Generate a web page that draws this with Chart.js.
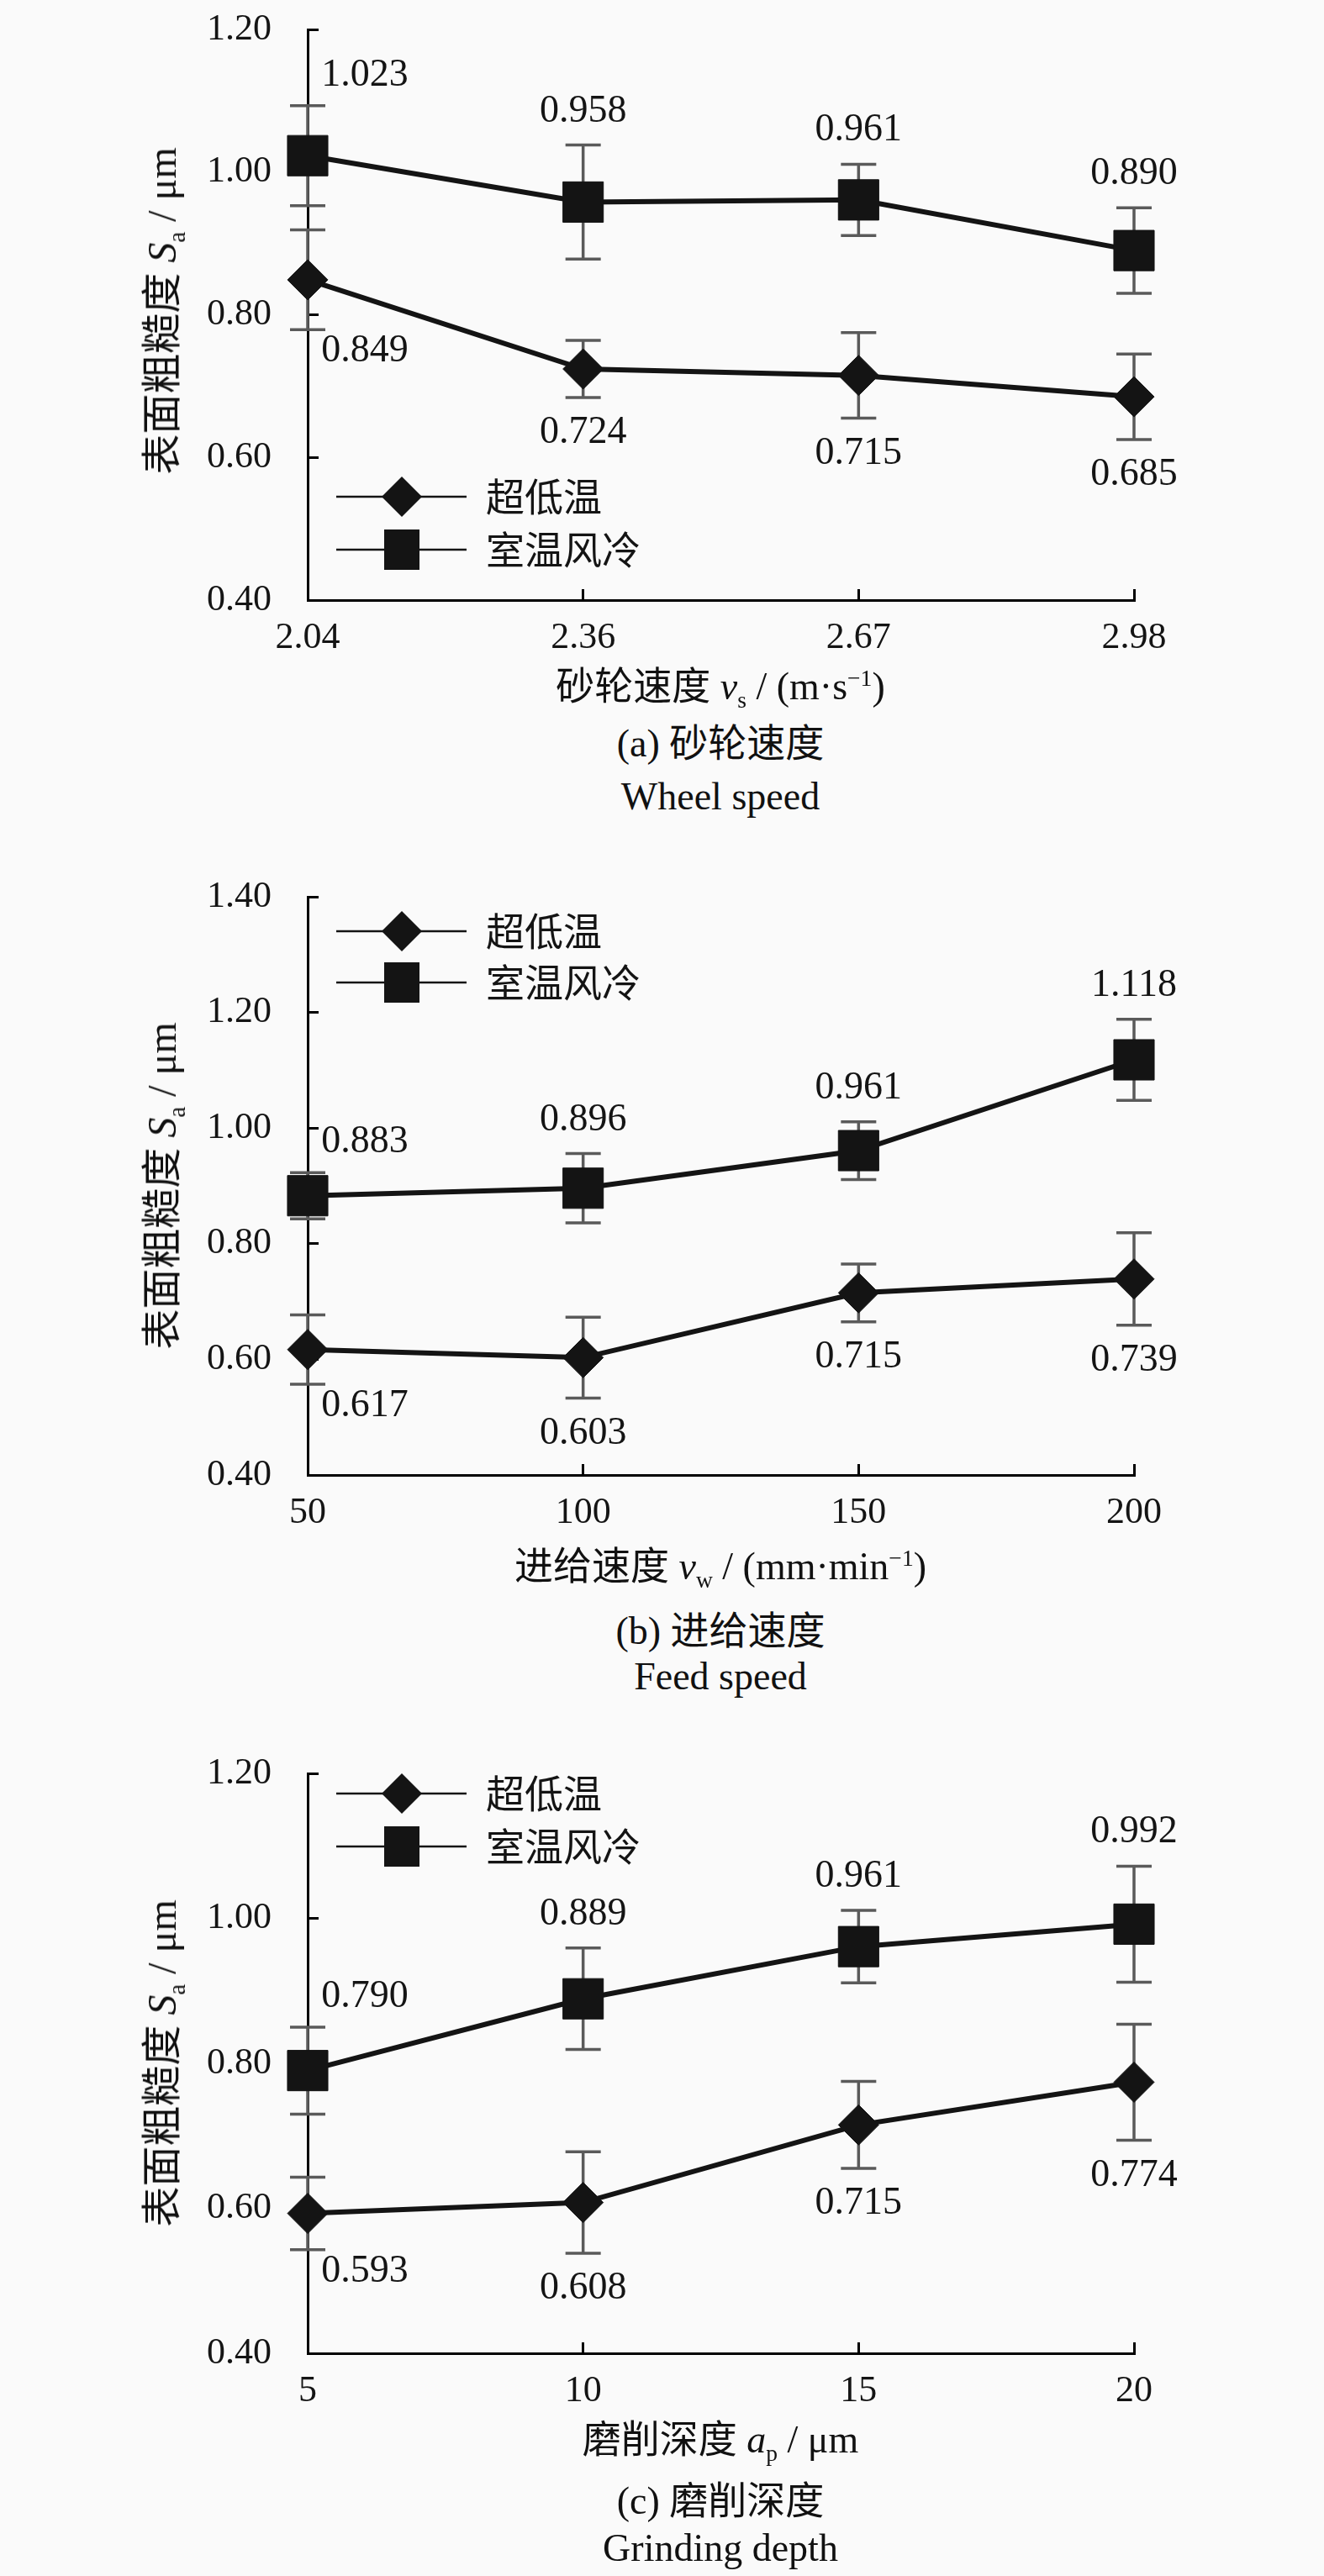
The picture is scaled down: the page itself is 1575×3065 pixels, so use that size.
<!DOCTYPE html>
<html>
<head>
<meta charset="utf-8">
<script src="https://cdn.jsdelivr.net/npm/chart.js@4.4.1/dist/chart.umd.min.js"></script>
<style>
  html, body { margin: 0; padding: 0; background: #fafafa; }
  #page { position: relative; width: 1575px; height: 3065px; overflow: hidden;
          font-family: "Liberation Serif", "Noto Sans CJK SC", serif; color: #111; }
  canvas { position: absolute; left: 0; }
  .txt { position: absolute; white-space: nowrap; font-size: 46px; line-height: 1;
         transform: translate(-50%, -50%); }
  .ytitle { font-size: 48px; transform: translate(-50%, -50%) rotate(-90deg); }
  sub, sup { font-size: 0.6em; line-height: 0; }
</style>
</head>
<body>
<div id="page">
  <canvas id="chartA"></canvas>
  <canvas id="chartB"></canvas>
  <canvas id="chartC"></canvas>

  <div class="txt ytitle" style="left:193px; top:370px">表面粗糙度 <i>S</i><sub>a</sub> / μm</div>
  <div class="txt" style="left:857px; top:817px">砂轮速度 <i>v</i><sub>s</sub> / (m·s<sup>−1</sup>)</div>
  <div class="txt" style="left:857px; top:885px">(a) 砂轮速度</div>
  <div class="txt" style="left:857px; top:948px">Wheel speed</div>

  <div class="txt ytitle" style="left:193px; top:1411px">表面粗糙度 <i>S</i><sub>a</sub> / μm</div>
  <div class="txt" style="left:857px; top:1864px">进给速度 <i>v</i><sub>w</sub> / (mm·min<sup>−1</sup>)</div>
  <div class="txt" style="left:857px; top:1941px">(b) 进给速度</div>
  <div class="txt" style="left:857px; top:1995px">Feed speed</div>

  <div class="txt ytitle" style="left:193px; top:2455px">表面粗糙度 <i>S</i><sub>a</sub> / μm</div>
  <div class="txt" style="left:857px; top:2903px">磨削深度 <i>a</i><sub>p</sub> / μm</div>
  <div class="txt" style="left:857px; top:2976px">(c) 磨削深度</div>
  <div class="txt" style="left:857px; top:3032px">Grinding depth</div>
</div>

<script>
// --- data ---
const seriesNames = ['超低温', '室温风冷'];

// (a) wheel speed
const catsA = ['2.04', '2.36', '2.67', '2.98'];
const cryoA = [0.849, 0.724, 0.715, 0.685];
const cryoErrA = [0.07, 0.04, 0.06, 0.06];
const airA = [1.023, 0.958, 0.961, 0.890];
const airErrA = [0.07, 0.08, 0.05, 0.06];
const yTicksA = [0.40, 0.60, 0.80, 1.00, 1.20];

// (b) feed speed
const catsB = ['50', '100', '150', '200'];
const cryoB = [0.617, 0.603, 0.715, 0.739];
const cryoErrB = [0.06, 0.07, 0.05, 0.08];
const airB = [0.883, 0.896, 0.961, 1.118];
const airErrB = [0.04, 0.06, 0.05, 0.07];
const yTicksB = [0.40, 0.60, 0.80, 1.00, 1.20, 1.40];

// (c) grinding depth
const catsC = ['5', '10', '15', '20'];
const cryoC = [0.593, 0.608, 0.715, 0.774];
const cryoErrC = [0.05, 0.07, 0.06, 0.08];
const airC = [0.790, 0.889, 0.961, 0.992];
const airErrC = [0.06, 0.07, 0.05, 0.08];
const yTicksC = [0.40, 0.60, 0.80, 1.00, 1.20];

// --- styling ---
const NUM_FONT = '"Liberation Serif", "Times New Roman", serif';
const CJK_FONT = '"Noto Sans CJK SC", sans-serif';
const INK = '#141414';
const ERR = '#5a5a5a';

// error bars under the markers
const errorBars = {
  id: 'errorBars',
  beforeDatasetsDraw(chart) {
    const ctx = chart.ctx, y = chart.scales.y;
    ctx.save();
    ctx.strokeStyle = ERR;
    ctx.lineWidth = 3.5;
    chart.data.datasets.forEach((ds, i) => {
      chart.getDatasetMeta(i).data.forEach((pt, j) => {
        const top = y.getPixelForValue(ds.data[j] + ds.errors[j]);
        const bot = y.getPixelForValue(ds.data[j] - ds.errors[j]);
        ctx.beginPath();
        ctx.moveTo(pt.x, top); ctx.lineTo(pt.x, bot);
        ctx.moveTo(pt.x - 21, top); ctx.lineTo(pt.x + 21, top);
        ctx.moveTo(pt.x - 21, bot); ctx.lineTo(pt.x + 21, bot);
        ctx.stroke();
      });
    });
    ctx.restore();
  }
};

// value labels beyond the end of each error bar (first column nudged right)
const valueLabels = {
  id: 'valueLabels',
  afterDatasetsDraw(chart) {
    const ctx = chart.ctx, y = chart.scales.y;
    ctx.save();
    ctx.fillStyle = INK;
    ctx.font = '46px ' + NUM_FONT;
    ctx.textAlign = 'center';
    ctx.textBaseline = 'middle';
    chart.data.datasets.forEach((ds, i) => {
      chart.getDatasetMeta(i).data.forEach((pt, j) => {
        const v = ds.data[j], e = ds.errors[j];
        const first = j === 0;
        const x = pt.x + (first ? 68 : 0);
        const ly = ds.labelSide === 'above'
          ? y.getPixelForValue(v + e) - (first ? 36 : 40)
          : y.getPixelForValue(v - e) + (first ? 26 : 42);
        ctx.fillText(v.toFixed(3), x, ly);
      });
    });
    ctx.restore();
  }
};

// legend: line with marker, then name
const lineLegend = {
  id: 'lineLegend',
  afterDraw(chart, args, opts) {
    const ctx = chart.ctx;
    ctx.save();
    chart.data.datasets.forEach((ds, i) => {
      const ry = opts.rows[i];
      ctx.strokeStyle = INK;
      ctx.lineWidth = 2.5;
      ctx.beginPath();
      ctx.moveTo(400, ry); ctx.lineTo(555, ry);
      ctx.stroke();
      ctx.fillStyle = INK;
      ctx.beginPath();
      if (ds.pointStyle === 'rectRot') {
        ctx.moveTo(478 - 24, ry); ctx.lineTo(478, ry - 24);
        ctx.lineTo(478 + 24, ry); ctx.lineTo(478, ry + 24);
        ctx.closePath();
      } else {
        ctx.rect(478 - 21, ry - 24, 42, 48);
      }
      ctx.fill();
      ctx.font = '46px ' + CJK_FONT;
      ctx.textAlign = 'left';
      ctx.textBaseline = 'middle';
      ctx.fillText(ds.label, 578, ry);
    });
    ctx.restore();
  }
};

function makeChart(id, cats, cryo, cryoErr, air, airErr, yTicks, lay) {
  const padTop = lay.plotTop - lay.canvasTop;
  const h = padTop + (lay.plotBottom - lay.plotTop) + 100;
  const cv = document.getElementById(id);
  cv.width = 1575; cv.height = h;
  cv.style.top = lay.canvasTop + 'px';
  cv.style.width = '1575px'; cv.style.height = h + 'px';

  const axisGrid = { drawOnChartArea: false, color: '#000', lineWidth: 3, tickLength: -13 };
  const axisBorder = { display: true, color: '#000', width: 3 };

  return new Chart(cv.getContext('2d'), {
    type: 'line',
    data: {
      labels: cats,
      datasets: [
        { label: seriesNames[0], data: cryo, errors: cryoErr, labelSide: 'below',
          pointStyle: 'rectRot', pointRadius: 24 },
        { label: seriesNames[1], data: air, errors: airErr, labelSide: 'above',
          pointStyle: 'rect', pointRadius: 34 }
      ].map(d => Object.assign({
        borderColor: INK, borderWidth: 6, backgroundColor: INK,
        pointBackgroundColor: INK, pointBorderColor: INK, pointBorderWidth: 1,
        tension: 0, clip: false
      }, d))
    },
    options: {
      responsive: false,
      animation: false,
      devicePixelRatio: 1,
      layout: { padding: { top: padTop, right: 1575 - lay.plotRight, bottom: 0, left: 0 } },
      scales: {
        x: {
          type: 'category', offset: false,
          grid: Object.assign({ offset: false }, axisGrid), border: axisBorder,
          ticks: { color: INK, padding: 32, maxRotation: 0, autoSkip: false,
                   font: { family: NUM_FONT, size: 44 } },
          afterFit(s) { s.height = 100; s.paddingLeft = 0; s.paddingRight = 0; }
        },
        y: {
          min: yTicks[0], max: yTicks[yTicks.length - 1],
          grid: axisGrid, border: axisBorder,
          afterBuildTicks(s) { s.ticks = yTicks.map(v => ({ value: v })); },
          ticks: { color: INK, padding: 56, font: { family: NUM_FONT, size: 44 },
                   callback: v => Number(v).toFixed(2) },
          afterFit(s) { s.width = lay.plotLeft; s.paddingTop = 0; s.paddingBottom = 0; }
        }
      },
      plugins: {
        legend: { display: false },
        tooltip: { enabled: false },
        lineLegend: { rows: lay.legendRows.map(r => r - lay.canvasTop) }
      }
    },
    plugins: [errorBars, valueLabels, lineLegend]
  });
}

function buildAll() {
  makeChart('chartA', catsA, cryoA, cryoErrA, airA, airErrA, yTicksA,
    { canvasTop: 0, plotTop: 25, plotBottom: 714, plotLeft: 366, plotRight: 1349, legendRows: [591, 654] });
  makeChart('chartB', catsB, cryoB, cryoErrB, airB, airErrB, yTicksB,
    { canvasTop: 1007, plotTop: 1067, plotBottom: 1755, plotLeft: 366, plotRight: 1349, legendRows: [1108, 1169] });
  makeChart('chartC', catsC, cryoC, cryoErrC, airC, airErrC, yTicksC,
    { canvasTop: 2050, plotTop: 2110, plotBottom: 2800, plotLeft: 366, plotRight: 1349, legendRows: [2134, 2197] });
}

if (document.fonts && document.fonts.load) {
  Promise.all([
    document.fonts.load('44px "Liberation Serif"', '0.123'),
    document.fonts.load('46px "Noto Sans CJK SC"', '超低温')
  ]).then(buildAll, buildAll);
} else {
  buildAll();
}
</script>
</body>
</html>
